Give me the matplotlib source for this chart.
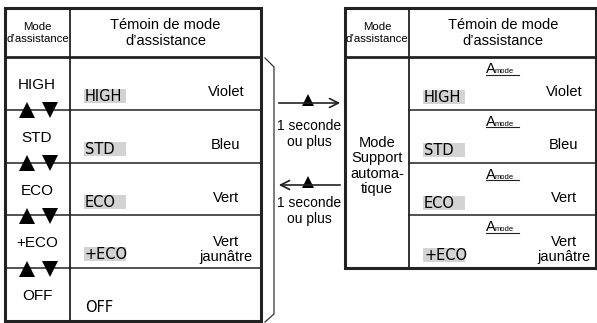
import matplotlib
matplotlib.use("Agg")
import matplotlib.pyplot as plt
from matplotlib.patches import Rectangle

plt.rcParams['font.family'] = ['Liberation Sans', 'DejaVu Sans']

# data
modes = ['HIGH', 'STD', 'ECO', '+ECO', 'OFF']
lamp_colours = ['Violet', 'Bleu', 'Vert', 'Vert\njaunâtre', '']
auto_modes = ['HIGH', 'STD', 'ECO', '+ECO']
auto_colours = ['Violet', 'Bleu', 'Vert', 'Vert\njaunâtre']
header_left = 'Mode\nd\u2019assistance'
header_right = 'Témoin de mode\nd\u2019assistance'
auto_label = 'Mode\nSupport\nautoma-\ntique'
delay_label = '1 seconde\nou plus'

fig = plt.figure(figsize=(5.97, 3.23), dpi=100)
ax = fig.add_axes([0, 0, 1, 1])
ax.set_xlim(0, 597)
ax.set_ylim(323, 0)
ax.axis('off')

grey = '#d3d3d3'
top, head_bot, row_h = 8, 57, 52.8

def lcd(x, y, s, box=True):
    if box:
        ax.add_patch(Rectangle((x, y - 7), 42, 14, color=grey, lw=0, zorder=1))
    ax.text(x + 1, y + 0.5, s, fontsize=10.5, va='center', ha='left', zorder=2,
            family=['DejaVu Sans'])

# ---------------- left table
L0, L1, L2 = 5, 70, 261
bottom = head_bot + row_h * len(modes)
ax.add_patch(Rectangle((L0, top), L2 - L0, bottom - top, fill=False, lw=2.2, ec='#222'))
ax.plot([L1, L1], [top, bottom], color='#222', lw=1.3)
ax.plot([L0, L2], [head_bot, head_bot], color='#222', lw=2)
ax.text((L0 + L1) / 2, 33, header_left, fontsize=8.2, ha='center', va='center', linespacing=1.3)
ax.text((L1 + L2) / 2, 33, header_right, fontsize=10.5, ha='center', va='center', linespacing=1.15)

for i, m in enumerate(modes):
    y0 = head_bot + i * row_h
    if i > 0:
        ax.plot([L0, L2], [y0, y0], color='#222', lw=1.1)
        ax.plot([27], [y0 + 0.5], marker='^', ms=11, color='black', mew=0)
        ax.plot([50], [y0 + 0.5], marker='v', ms=11, color='black', mew=0)
    ax.text(37, y0 + 28, m, fontsize=11, ha='center', va='center')
    lcd(84, y0 + 39, m, box=(m != 'OFF'))
    if lamp_colours[i]:
        c = lamp_colours[i]
        ax.text(226, y0 + (35 if '\n' not in c else 34), c, fontsize=10.5, ha='center', va='center', linespacing=1.1)

# bracket
ax.plot([265, 274, 274, 265], [58, 67, 314, 322], color='#333', lw=0.9)

# arrows
ax.annotate('', xy=(343, 103), xytext=(276, 103),
            arrowprops=dict(arrowstyle='->', lw=1.2, color='#222', mutation_scale=16))
ax.annotate('', xy=(276, 185), xytext=(343, 185),
            arrowprops=dict(arrowstyle='->', lw=1.2, color='#222', mutation_scale=16))
ax.plot([308, 308], [99.5, 181.5], ls='none', marker='^', ms=9, color='black', mew=0)
ax.text(309, 134, delay_label, fontsize=10, ha='center', va='center', linespacing=1.2)
ax.text(309, 211, delay_label, fontsize=10, ha='center', va='center', linespacing=1.2)

# ---------------- right table
R0, R1, R2 = 345, 409, 596
rbottom = head_bot + 52.8 * len(auto_modes)
ax.add_patch(Rectangle((R0, top), R2 - R0, rbottom - top, fill=False, lw=2.2, ec='#222'))
ax.plot([R1, R1], [top, rbottom], color='#222', lw=1.3)
ax.plot([R0, R2], [head_bot, head_bot], color='#222', lw=2)
ax.text((R0 + R1) / 2, 33, header_left, fontsize=8.2, ha='center', va='center', linespacing=1.3)
ax.text(503, 33, header_right, fontsize=10.5, ha='center', va='center', linespacing=1.15)
ax.text((R0 + R1) / 2, 166, auto_label, fontsize=10.5, ha='center', va='center', linespacing=1.1)

for i, m in enumerate(auto_modes):
    y0 = head_bot + i * 52.8
    if i > 0:
        ax.plot([R1, R2], [y0, y0], color='#222', lw=1.1)
    # "A mode" indicator
    ax.text(486, y0 + 16, 'A', fontsize=10.5, ha='left', va='baseline')
    ax.text(494.5, y0 + 16, 'mode', fontsize=5.5, ha='left', va='baseline')
    ax.plot([486, 519], [y0 + 17.5, y0 + 17.5], color='#222', lw=0.8)
    lcd(423, y0 + 40, m)
    c = auto_colours[i]
    ax.text(564, y0 + (35 if '\n' not in c else 34), c, fontsize=10.5, ha='center', va='center', linespacing=1.1)

fig.savefig('out.png', dpi=100)
